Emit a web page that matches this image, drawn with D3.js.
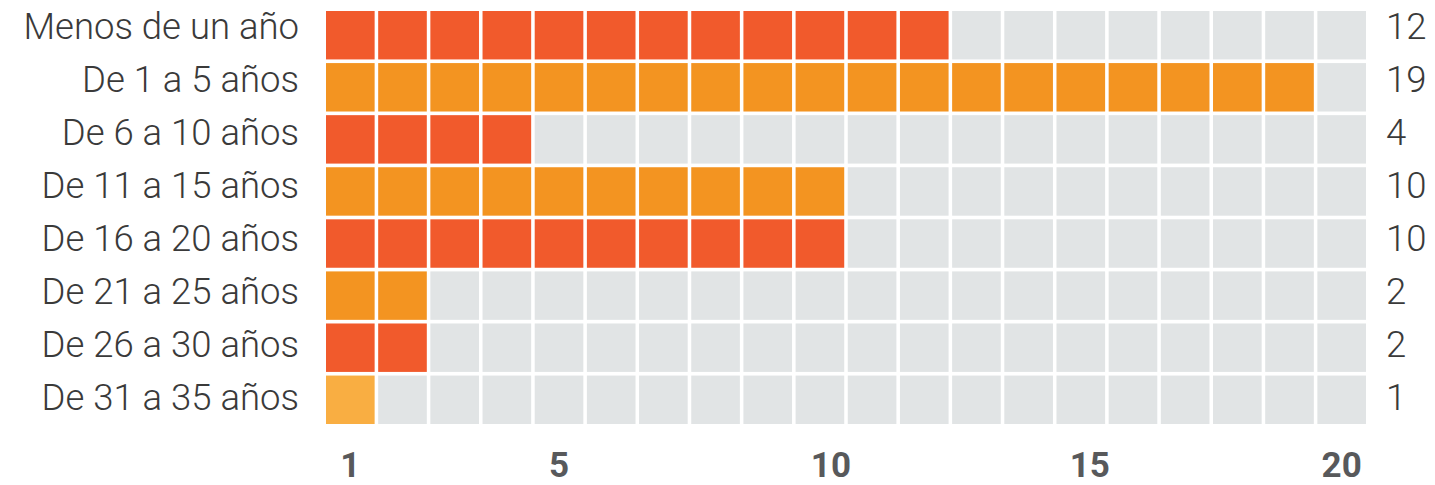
<!DOCTYPE html>
<html>
<head>
<meta charset="utf-8">
<style>
  body { margin: 0; background: #fff; }
  svg { display: block; font-family: Roboto, "Noto Sans", sans-serif; }
  .label { font-family: "Roboto Light", Roboto, sans-serif; font-weight: 300; font-size: 36.5px; fill: #3a3a3a; }
  .tick text { font-family: Roboto, sans-serif; font-weight: 700; font-size: 35px; fill: #58595b; }
</style>
</head>
<body>
<script src="https://d3js.org/d3.v7.min.js"></script>
<script>
// data
const categories = ["Menos de un año", "De 1 a 5 años", "De 6 a 10 años", "De 11 a 15 años",
                    "De 16 a 20 años", "De 21 a 25 años", "De 26 a 30 años", "De 31 a 35 años"];
const counts = [12, 19, 4, 10, 10, 2, 2, 1];
const columns = d3.range(1, 21);
const tickValues = [1, 5, 10, 15, 20];

// fill per row, plus the empty cell colour
const rowColors = ["#f15a2c", "#f39421", "#f15a2c", "#f39421", "#f15a2c", "#f39421", "#f15a2c", "#f9ae42"];
const emptyColor = "#e1e4e5";

const width = 1435, height = 485;

const svg = d3.select("body").append("svg")
    .attr("width", width)
    .attr("height", height);

// grid scales
const x = d3.scaleBand().domain(columns).range([326, 1366]).paddingInner(0.068);
const y = d3.scaleBand().domain(categories).range([11, 424]).paddingInner(0.07);
// row labels sit on a slightly looser spacing than the cells
const yLabel = d3.scalePoint().domain(categories).range([26, 397]);

// one group per row, one rect per column
const rows = svg.selectAll("g.row")
    .data(categories.map((c, i) => ({cat: c, n: counts[i], color: rowColors[i]})))
    .enter()
    .append("g")
    .attr("class", "row");

rows.selectAll("rect")
    .data(d => columns.map(col => ({col: col, on: col <= d.n, color: d.color, cat: d.cat})))
    .enter()
    .append("rect")
    .attr("x", d => x(d.col))
    .attr("y", d => y(d.cat))
    .attr("width", x.bandwidth())
    .attr("height", y.bandwidth())
    .attr("fill", d => d.on ? d.color : emptyColor);

// category labels on the left
rows.append("text")
    .attr("class", "label")
    .attr("x", 299)
    .attr("y", d => yLabel(d.cat))
    .attr("dy", "0.35em")
    .attr("text-anchor", "end")
    .text(d => d.cat);

// counts on the right
rows.append("text")
    .attr("class", "label")
    .attr("x", 1386)
    .attr("y", d => yLabel(d.cat))
    .attr("dy", "0.35em")
    .text(d => d.n);

// bottom axis
const axis = svg.append("g")
    .attr("transform", "translate(0,477)")
    .call(d3.axisBottom(x).tickValues(tickValues).tickSize(0).tickPadding(0));
axis.select(".domain").remove();
axis.selectAll(".tick text")
    .attr("dy", 0)
    .attr("y", 0);
// the original nudges the two-digit ticks a little to the right
axis.selectAll(".tick text")
    .attr("dx", d => d === 10 ? 11 : d === 15 ? 9 : 0);
</script>
</body>
</html>
